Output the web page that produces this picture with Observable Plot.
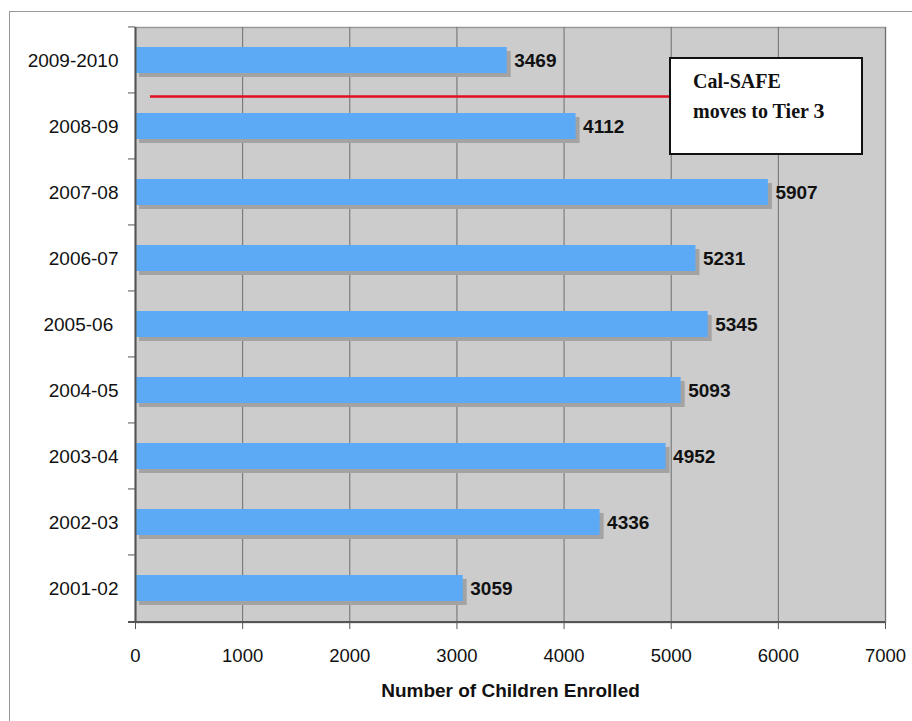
<!DOCTYPE html>
<html>
<head>
<meta charset="utf-8">
<script src="https://cdn.jsdelivr.net/npm/d3@7"></script>
<script src="https://cdn.jsdelivr.net/npm/@observablehq/plot@0.6"></script>
<style>
  html, body { margin: 0; padding: 0; background: #fff; }
  #wrap { position: relative; width: 912px; height: 721px; overflow: hidden; }
  #frame { position: absolute; left: 9px; top: 11px; width: 920px; height: 720px;
           border-left: 1px solid #999; border-top: 1px solid #999; }
  #chart { position: absolute; left: 0; top: 0; }
  #note { position: absolute; left: 669px; top: 57px; width: 190px; height: 94px;
          background: #fff; border: 2px solid #111;
          font-family: "Liberation Serif", "Times New Roman", serif; font-weight: bold;
          font-size: 20px; line-height: 29px; color: #111; box-sizing: content-box; }
  #note div { padding: 8px 0 0 22px; }
  #note .big { font-size: 22px; }
</style>
</head>
<body>
<div id="wrap">
  <div id="frame"></div>
  <div id="chart"></div>
  <div id="note"><div>Cal-SAFE<br>moves to Tier <span class="big">3</span></div></div>
</div>
<script>
const years = ["2009-2010", "2008-09", "2007-08", "2006-07", "2005-06 ", "2004-05", "2003-04", "2002-03", "2001-02"];
const enrolled = [3469, 4112, 5907, 5231, 5345, 5093, 4952, 4336, 3059];
const xTicks = [0, 1000, 2000, 3000, 4000, 5000, 6000, 7000];
const xLabel = "Number of Children Enrolled";
const tierLineFrom = 140, tierLineTo = 5000, tierLineAfter = "2009-2010";

const data = years.map((y, i) => ({year: y, value: enrolled[i]}));
const font = "'Liberation Sans', Arial, sans-serif";

const W = 912, H = 721, mL = 135, mR = 27, mT = 27, mB = 99;
const step = (H - mT - mB) / years.length;

const plot = Plot.plot({
  width: W, height: H,
  marginLeft: mL, marginRight: mR, marginTop: mT, marginBottom: mB,
  style: {fontFamily: font, fontSize: "19px", color: "#111", background: "transparent", overflow: "visible"},
  x: {domain: [0, 7000], ticks: xTicks, tickFormat: d => String(d), label: null},
  y: {domain: years, paddingInner: 0.6, paddingOuter: 0.3, label: null},
  marks: [
    Plot.frame({fill: "#cccccc", stroke: "#999", strokeWidth: 1.5}),
    Plot.ruleX(xTicks, {stroke: "#6e6e6e", strokeWidth: 1}),
    Plot.barX(data, {x: "value", y: "year", fill: "#a3a3a3", dx: 4, dy: 4}),
    Plot.barX(data, {x: "value", y: "year", fill: "#5caaf5"}),
    Plot.text(data, {x: "value", y: "year", text: d => String(d.value), textAnchor: "start",
      dx: 7, fontWeight: "bold", fontSize: 19, fill: "#111"}),
    Plot.ruleY([tierLineAfter], {x1: tierLineFrom, x2: tierLineTo, stroke: "#e0101e", strokeWidth: 2.6, dy: step / 2 + 3}),
    Plot.ruleX([0], {stroke: "#555", strokeWidth: 2}),
    Plot.axisX({ticks: xTicks, tickSize: 7, tickPadding: 19, stroke: "#555", fontSize: 18.5, tickFormat: d => String(d)}),
    Plot.axisX({label: xLabel, labelAnchor: "center", labelArrow: "none", ticks: [], labelOffset: 74, fontWeight: "bold", fontSize: 19}),
    Plot.axisY({tickSize: 0, tickPadding: 17, fontSize: 19, label: null})
  ]
});
document.getElementById("chart").appendChild(plot);

// bottom axis line and band-boundary ticks, placed with the plot's own scales
const ys = plot.scale("y");
const xs = plot.scale("x");
const svg = d3.select(plot);
const y0 = H - mB;
svg.append("line").attr("x1", xs.apply(0) - 7).attr("x2", xs.apply(7000)).attr("y1", y0).attr("y2", y0)
  .attr("stroke", "#555").attr("stroke-width", 2);
const bounds = years.map(y => ys.apply(y) - (step - ys.bandwidth) / 2).concat([y0]);
svg.selectAll("line.bt").data(bounds).join("line").attr("class", "bt")
  .attr("x1", xs.apply(0) - 7).attr("x2", xs.apply(0)).attr("y1", d => d).attr("y2", d => d)
  .attr("stroke", "#555").attr("stroke-width", 1);
</script>
</body>
</html>
